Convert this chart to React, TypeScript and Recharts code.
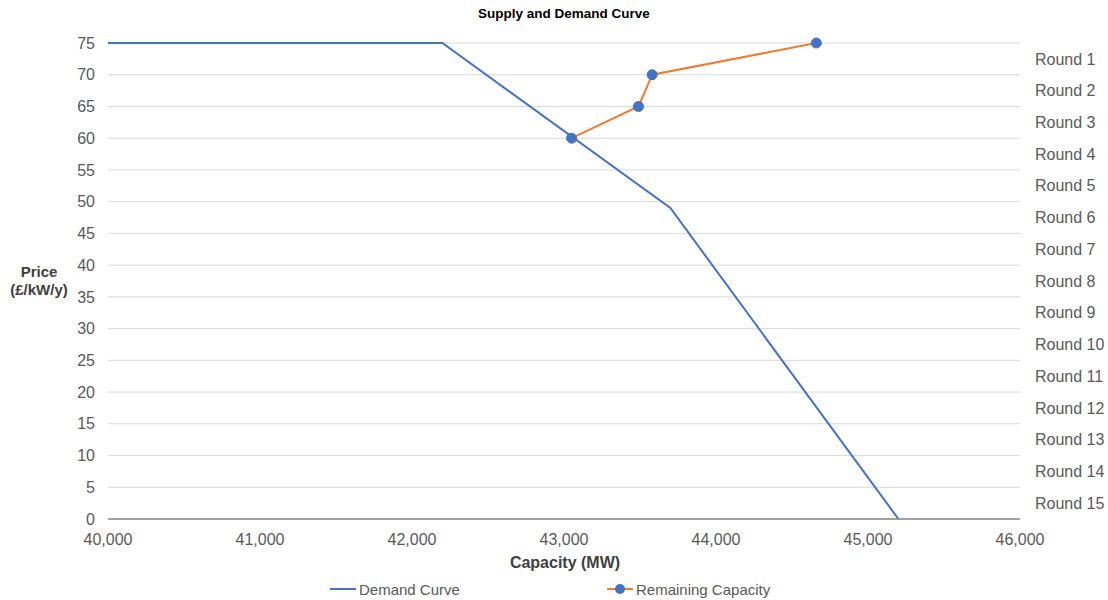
import React from 'react'
import { CartesianGrid, Legend, Line, LineChart, XAxis, YAxis } from 'recharts'

const capacityTicks = [40000, 41000, 42000, 43000, 44000, 45000, 46000]
const priceTicks = [0, 5, 10, 15, 20, 25, 30, 35, 40, 45, 50, 55, 60, 65, 70, 75]
const roundLabels = [
    'Round 1', 'Round 2', 'Round 3', 'Round 4', 'Round 5',
    'Round 6', 'Round 7', 'Round 8', 'Round 9', 'Round 10',
    'Round 11', 'Round 12', 'Round 13', 'Round 14', 'Round 15',
]

const demandCapacity = [40000, 42200, 43700, 45200]
const demandPrice = [75, 75, 49, 0]
const remainingCapacity = [43050, 43490, 43580, 44660]
const remainingPrice = [60, 65, 70, 75]

// one table sorted by capacity, each series filled only at its own points
const chartData = [
    ...demandCapacity.map((x, i) => ({ x, demand: demandPrice[i] as number | undefined, remaining: undefined as number | undefined })),
    ...remainingCapacity.map((x, i) => ({ x, demand: undefined as number | undefined, remaining: remainingPrice[i] as number | undefined })),
].sort((a, b) => a.x - b.x)

// each round label sits in the middle of a 5-unit band, top to bottom
const roundTicks = roundLabels.map((_, i) => 75 - 5 * i - 2.5)
const roundFormatter = (v: number) => roundLabels[Math.round((72.5 - v) / 5)]

const BLUE = '#4472C4'
const ORANGE = '#ED7D31'
const TEXT = '#595959'
const TITLE = '#404040'
const FONT = '"Liberation Sans", Arial, sans-serif'

const legendLeft = [330, 607]

const renderLegend = (props: any) => {
    const items = props.payload || []
    return (
        <div style={{ position: 'relative', height: 24, fontFamily: FONT, fontSize: 15, color: TEXT }}>
            {items.map((item: any, i: number) => (
                <div key={item.value} style={{ position: 'absolute', left: legendLeft[i], top: 0, display: 'flex', alignItems: 'center', height: 24 }}>
                    <svg width={26} height={12} style={{ marginRight: 3 }}>
                        <line x1={0} y1={6} x2={26} y2={6} stroke={item.color} strokeWidth={2} />
                        {i === 1 && <circle cx={13} cy={6} r={5} fill={BLUE} />}
                    </svg>
                    <span>{item.value}</span>
                </div>
            ))}
        </div>
    )
}

const App = () => {
    return (
        <div style={{ position: 'absolute', left: 0, top: 0, width: 1108, height: 600, background: '#fff', fontFamily: FONT }}>
            <div style={{ position: 'absolute', left: 108, width: 912, top: 6, textAlign: 'center', fontSize: 13.5, fontWeight: 'bold', color: '#000' }}>
                Supply and Demand Curve
            </div>
            <LineChart width={1108} height={600} data={chartData} margin={{ top: 43, right: 0, bottom: 0, left: 48 }} style={{ fontFamily: FONT }}>
                <CartesianGrid yAxisId="left" vertical={false} stroke="#d9d9d9" strokeWidth={1} />
                <XAxis
                    dataKey="x"
                    type="number"
                    domain={[40000, 46000]}
                    ticks={capacityTicks}
                    interval={0}
                    height={81}
                    tickLine={false}
                    axisLine={{ stroke: '#898989', strokeWidth: 1.5 }}
                    tickMargin={9}
                    tick={{ fill: TEXT, fontSize: 16 }}
                    tickFormatter={(v) => v.toLocaleString('en-US')}
                    label={{
                        content: () => (
                            <text x={565} y={568} textAnchor="middle" fontSize={16} fontWeight="bold" fill={TITLE}>
                                Capacity (MW)
                            </text>
                        ),
                    }}
                />
                <YAxis
                    yAxisId="left"
                    orientation="left"
                    type="number"
                    domain={[0, 75]}
                    ticks={priceTicks}
                    interval={0}
                    width={60}
                    tickLine={false}
                    axisLine={false}
                    tickMargin={7}
                    tick={{ fill: TEXT, fontSize: 16 }}
                    label={{
                        content: () => (
                            <text x={39} y={277} textAnchor="middle" fontSize={15} fontWeight="bold" fill={TITLE}>
                                <tspan x={39} dy={0}>Price</tspan>
                                <tspan x={39} dy={18}>(£/kW/y)</tspan>
                            </text>
                        ),
                    }}
                />
                <YAxis
                    yAxisId="right"
                    orientation="right"
                    type="number"
                    domain={[0, 75]}
                    ticks={roundTicks}
                    interval={0}
                    width={88}
                    tickLine={false}
                    axisLine={false}
                    tickMargin={9}
                    tick={{ fill: TEXT, fontSize: 16, textAnchor: 'start' }}
                    tickFormatter={roundFormatter}
                />
                <Line
                    yAxisId="left"
                    dataKey="demand"
                    name="Demand Curve"
                    type="linear"
                    stroke={BLUE}
                    strokeWidth={2}
                    dot={false}
                    activeDot={false}
                    connectNulls
                    isAnimationActive={false}
                />
                <Line
                    yAxisId="right"
                    dataKey="remaining"
                    name="Remaining Capacity"
                    type="linear"
                    stroke={ORANGE}
                    strokeWidth={2}
                    dot={{ r: 5, fill: BLUE, stroke: BLUE, strokeWidth: 1 }}
                    activeDot={false}
                    connectNulls
                    isAnimationActive={false}
                />
                <Legend
                    verticalAlign="middle"
                    align="center"
                    layout="horizontal"
                    content={renderLegend}
                    wrapperStyle={{ top: 577, left: 0, width: 1108, height: 24 }}
                />
            </LineChart>
        </div>
    )
}

export default App
